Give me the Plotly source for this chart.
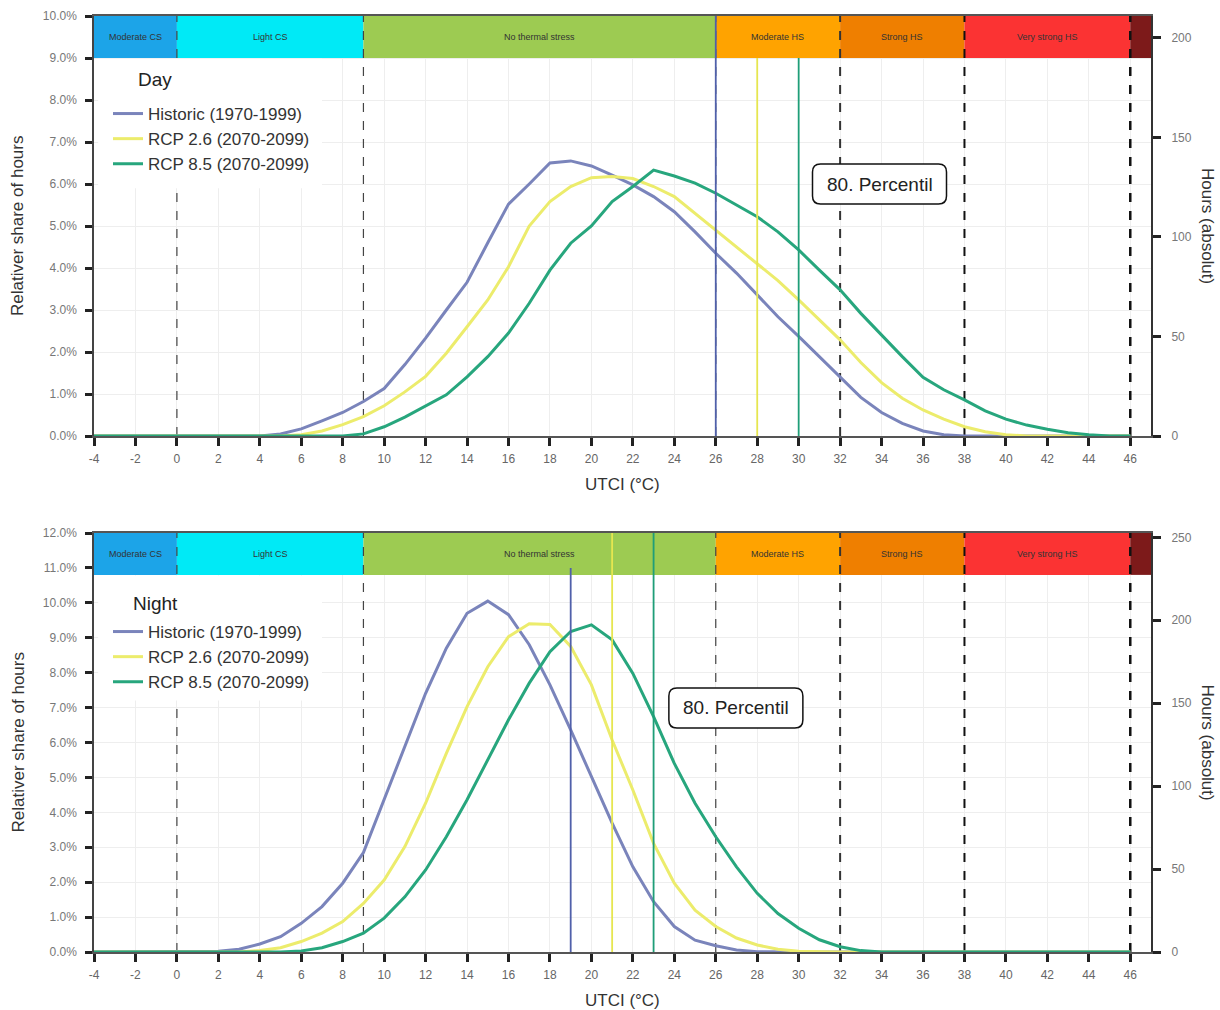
import plotly.graph_objects as go

# UTCI classes (°C) along the x axis
temps = list(range(-4, 47))

# Relative share of hours (%) per 1 °C UTCI bin, day time
day_hist = [0, 0, 0, 0, 0, 0, 0, 0,
            0.0, 0.05, 0.17, 0.36, 0.56, 0.82, 1.13, 1.7, 2.33, 3.0, 3.66, 4.6, 5.52, 6.0,
            6.5, 6.55, 6.43, 6.21, 5.98, 5.7, 5.34, 4.86, 4.35, 3.88, 3.36, 2.84, 2.37,
            1.89, 1.41, 0.92, 0.56, 0.3, 0.12, 0.03,
            0, 0, 0, 0, 0, 0, 0, 0, 0]
day_rcp26 = [0, 0, 0, 0, 0, 0, 0, 0, 0, 0,
             0.03, 0.12, 0.27, 0.46, 0.72, 1.05, 1.42, 1.97, 2.6, 3.24, 4.03, 5.0, 5.58,
             5.94, 6.15, 6.18, 6.13, 5.94, 5.7, 5.3, 4.9, 4.5, 4.1, 3.7, 3.24, 2.76, 2.29,
             1.75, 1.27, 0.9, 0.62, 0.4, 0.22, 0.1, 0.03,
             0, 0, 0, 0, 0, 0]
day_rcp85 = [0, 0, 0, 0, 0, 0, 0, 0, 0, 0, 0, 0,
             0.0, 0.05, 0.22, 0.45, 0.72, 0.98, 1.41, 1.89, 2.45, 3.16, 3.95, 4.59, 5.0,
             5.58, 5.94, 6.33, 6.19, 6.02, 5.78, 5.5, 5.22, 4.86, 4.43, 3.95, 3.48, 2.92,
             2.4, 1.89, 1.4, 1.1, 0.86, 0.6, 0.4, 0.26, 0.16, 0.08, 0.03, 0.0, 0]

# Relative share of hours (%) per 1 °C UTCI bin, night time
night_hist = [0, 0, 0, 0, 0, 0,
              0.02, 0.08, 0.23, 0.44, 0.82, 1.3, 1.97, 2.85, 4.36, 5.88, 7.41, 8.7, 9.7,
              10.05, 9.66, 8.8, 7.65, 6.36, 5.02, 3.69, 2.44, 1.44, 0.73, 0.34, 0.18, 0.06,
              0.01, 0, 0, 0, 0, 0, 0, 0, 0, 0, 0, 0, 0, 0, 0, 0, 0, 0, 0]
night_rcp26 = [0, 0, 0, 0, 0, 0, 0, 0,
               0.04, 0.12, 0.3, 0.54, 0.87, 1.39, 2.06, 3.02, 4.26, 5.69, 7.03, 8.17, 9.03,
               9.4, 9.38, 8.75, 7.65, 6.07, 4.64, 3.11, 1.97, 1.2, 0.73, 0.4, 0.2, 0.08,
               0.02, 0, 0, 0, 0, 0, 0, 0, 0, 0, 0, 0, 0, 0, 0, 0, 0]
night_rcp85 = [0, 0, 0, 0, 0, 0, 0, 0, 0, 0,
               0.03, 0.12, 0.3, 0.54, 0.97, 1.58, 2.35, 3.3, 4.36, 5.5, 6.65, 7.7, 8.6,
               9.18, 9.37, 8.94, 7.98, 6.74, 5.4, 4.26, 3.3, 2.44, 1.68, 1.1, 0.68, 0.35,
               0.15, 0.04, 0, 0, 0, 0, 0, 0, 0, 0, 0, 0, 0, 0, 0]

# 80th percentile of UTCI (°C) per scenario
p80_day = [26, 28, 30]
p80_night = [19, 21, 23]

series_names = ["Historic (1970-1999)", "RCP 2.6 (2070-2099)", "RCP 8.5 (2070-2099)"]
series_colors = ["#7a84bb", "#ecec6c", "#27a67d"]
p80_colors = ["#5060aa", "#e6e650", "#1f9e78"]

# hours represented by one percent of the period
hours_per_pct_day = 21.1
hours_per_pct_night = 21.05

# thermal stress classes
zone_edges = [-4, 0, 9, 26, 32, 38, 46, 47]
zone_labels = ["Moderate CS", "Light CS", "No thermal stress", "Moderate HS",
               "Strong HS", "Very strong HS", ""]
zone_colors = ["#1ca4e8", "#00eaf6", "#9dcb52", "#ffa300", "#ef7f00", "#fb3333", "#7d1a1a"]
boundary_style = {0: ("#444", 1.2), 9: ("#444", 1.2), 26: ("#444", 1.2),
                  32: ("#333", 2), 38: ("#111", 2), 46: ("#111", 2.5)}

W, H = 1220, 1010
x_dom = [94 / W, 1151 / W]
top_dom = [1 - 436 / H, 1 - 16 / H]
bot_dom = [1 - 952 / H, 1 - 533 / H]

FONT = "Liberation Sans"

fig = go.Figure()

panels = [
    dict(x="x", y="y", y2="y2", legend="legend",
         data=[day_hist, day_rcp26, day_rcp85], hpp=hours_per_pct_day),
    dict(x="x2", y="y3", y2="y4", legend="legend2",
         data=[night_hist, night_rcp26, night_rcp85], hpp=hours_per_pct_night),
]

for p in panels:
    for name, vals, col in zip(series_names, p["data"], series_colors):
        fig.add_trace(go.Scatter(
            x=temps, y=vals, mode="lines", name=name,
            line=dict(color=col, width=3), xaxis=p["x"], yaxis=p["y"],
            legend=p["legend"], hoverinfo="x+y"))
    # absolute hours on the secondary axis (same curve, not drawn again)
    fig.add_trace(go.Scatter(
        x=temps, y=[v * p["hpp"] for v in p["data"][0]], mode="lines",
        line=dict(width=0, color="rgba(0,0,0,0)"), xaxis=p["x"], yaxis=p["y2"],
        showlegend=False, hoverinfo="skip"))

shapes = []
annotations = []


def add_panel_decor(xref, yref, ytop, p80, p80_tops, box_at, legend_area):
    band_lo = ytop * 0.9
    for i, col in enumerate(zone_colors):
        shapes.append(dict(type="rect", xref=xref, yref=yref, layer="between",
                           x0=zone_edges[i], x1=zone_edges[i + 1], y0=band_lo, y1=ytop,
                           fillcolor=col, line=dict(width=0)))
        if zone_labels[i]:
            annotations.append(dict(
                x=(zone_edges[i] + zone_edges[i + 1]) / 2, y=(band_lo + ytop) / 2,
                xref=xref, yref=yref, text=zone_labels[i], showarrow=False,
                font=dict(size=9, color="#333", family=FONT)))
    for xb, (col, w) in boundary_style.items():
        shapes.append(dict(type="line", xref=xref, yref=yref, layer="between",
                           x0=xb, x1=xb, y0=0, y1=ytop,
                           line=dict(color=col, width=w, dash="dash")))
    # white backing behind the legend block
    lx0, lx1, ly0, ly1 = legend_area
    shapes.append(dict(type="rect", xref=xref, yref=yref, layer="between",
                       x0=lx0, x1=lx1, y0=ly0, y1=ly1,
                       fillcolor="white", line=dict(width=0)))
    for xv, col, top in zip(p80, p80_colors, p80_tops):
        shapes.append(dict(type="line", xref=xref, yref=yref, layer="above",
                           x0=xv, x1=xv, y0=0, y1=top, line=dict(color=col, width=1.8)))
    w, h, r = 67, 20, 8
    path = (f"M {-w + r},{-h} L {w - r},{-h} Q {w},{-h} {w},{-h + r} "
            f"L {w},{h - r} Q {w},{h} {w - r},{h} L {-w + r},{h} Q {-w},{h} {-w},{h - r} "
            f"L {-w},{-h + r} Q {-w},{-h} {-w + r},{-h} Z")
    shapes.append(dict(type="path", xref=xref, yref=yref, layer="above",
                       xsizemode="pixel", ysizemode="pixel",
                       xanchor=box_at[0], yanchor=box_at[1], path=path,
                       fillcolor="white", line=dict(color="#111", width=1.5)))
    annotations.append(dict(x=box_at[0], y=box_at[1], xref=xref, yref=yref,
                            text="80. Percentil", showarrow=False,
                            font=dict(size=19, color="#222", family=FONT)))


add_panel_decor("x", "y", 10, p80_day, [10, 9, 9], (33.9, 6.0), (-3.8, 7.0, 5.9, 8.98))
add_panel_decor("x2", "y3", 12, p80_night, [11, 12, 12], (26.97, 6.99),
                (-3.8, 7.0, 7.2, 10.78))

# panel titles and axis titles
for txt, xp, yp in [("Day", 136, 80), ("Night", 131, 603)]:
    annotations.append(dict(x=xp / W, y=1 - yp / H, xref="paper", yref="paper",
                            text=txt, showarrow=False, xanchor="left", yanchor="middle",
                            font=dict(size=19, color="#222", family=FONT)))
for dom in (top_dom, bot_dom):
    yc = (dom[0] + dom[1]) / 2
    annotations.append(dict(x=18 / W, y=yc, xref="paper", yref="paper",
                            xanchor="center", yanchor="middle",
                            text="Relativer share of hours", textangle=-90, showarrow=False,
                            font=dict(size=17, color="#333", family=FONT)))
    annotations.append(dict(x=1207 / W, y=yc, xref="paper", yref="paper",
                            xanchor="center", yanchor="middle",
                            text="Hours (absolut)", textangle=90, showarrow=False,
                            font=dict(size=17, color="#333", family=FONT)))
for yp in (484, 1000):
    annotations.append(dict(x=622 / W, y=1 - yp / H, xref="paper", yref="paper",
                            xanchor="center", yanchor="middle",
                            text="UTCI (°C)", showarrow=False,
                            font=dict(size=17, color="#333", family=FONT)))

xticks = list(range(-4, 47, 2))
common_x = dict(range=[-4, 47], tickvals=xticks, ticktext=[str(v) for v in xticks],
                ticks="outside", ticklen=8, tickwidth=2.5, tickcolor="#222",
                showline=True, linecolor="#555", linewidth=2, mirror=True,
                showgrid=True, gridcolor="#eeeeee", gridwidth=1, zeroline=False,
                automargin=False, ticklabelstandoff=3,
                tickfont=dict(size=12, color="#666", family=FONT), domain=x_dom)
common_y = dict(dtick=1, tickformat=".1f", ticksuffix="%", ticks="outside", ticklen=7,
                tickwidth=2.5, tickcolor="#222", showline=True, linecolor="#444",
                linewidth=1.5, showgrid=True, gridcolor="#eeeeee", gridwidth=1,
                zeroline=False, automargin=False, ticklabelstandoff=6,
                tickfont=dict(size=12, color="#777", family=FONT))
common_y2 = dict(side="right", showgrid=False, ticks="outside", ticklen=8, tickwidth=2.5,
                 tickcolor="#222", showline=True, linecolor="#333", linewidth=2,
                 zeroline=False, automargin=False, ticklabelstandoff=8,
                 tickfont=dict(size=12, color="#777", family=FONT))

legend_style = dict(xanchor="left", yanchor="top", bgcolor="rgba(0,0,0,0)",
                    font=dict(size=17, color="#333", family=FONT), tracegroupgap=0,
                    itemwidth=30)

fig.update_layout(
    width=W, height=H,
    margin=dict(l=0, r=0, t=0, b=0, autoexpand=False),
    paper_bgcolor="white", plot_bgcolor="white",
    font=dict(family=FONT),
    xaxis=dict(common_x, anchor="y"),
    yaxis=dict(common_y, domain=top_dom, range=[0, 10], anchor="x"),
    yaxis2=dict(common_y2, overlaying="y", anchor="x",
                range=[0, 10 * hours_per_pct_day], tickvals=[0, 50, 100, 150, 200]),
    xaxis2=dict(common_x, anchor="y3"),
    yaxis3=dict(common_y, domain=bot_dom, range=[0, 12], anchor="x2"),
    yaxis4=dict(common_y2, overlaying="y3", anchor="x2",
                range=[0, 12 * hours_per_pct_night], tickvals=[0, 50, 100, 150, 200, 250]),
    legend=dict(legend_style, x=108 / W, y=1 - 96 / H),
    legend2=dict(legend_style, x=108 / W, y=1 - 614 / H),
    shapes=shapes,
    annotations=annotations,
    showlegend=True,
)

fig.write_html("out.html")
